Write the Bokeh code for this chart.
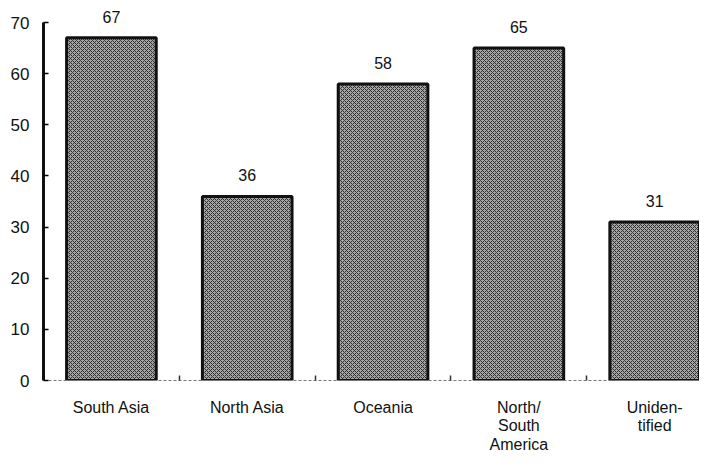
from bokeh.plotting import figure
from bokeh.models import Range1d, FixedTicker, ColumnDataSource
from bokeh.core.properties import value
from bokeh.embed import file_html
from bokeh.resources import INLINE
import numpy as np

categories = ["South Asia", "North Asia", "Oceania", "North/South America", "Unidentified"]
tick_labels = ["South Asia", "North Asia", "Oceania", "North/\nSouth\nAmerica", "Uniden-\ntified"]
values = [67, 36, 58, 65, 31]
y_ticks = [0, 10, 20, 30, 40, 50, 60, 70]

x = np.arange(len(categories)) + 0.5
src = ColumnDataSource(dict(x=x, v=values, lab=[str(v) for v in values], cat=categories))

p = figure(width=699, height=455, output_backend="svg", toolbar_location=None,
           x_range=Range1d(0, 4.83), y_range=Range1d(0, 72.35),
           min_border_left=43, min_border_right=0, min_border_top=10, min_border_bottom=75)
p.background_fill_color = "white"
p.border_fill_color = "white"
p.outline_line_color = None
p.grid.grid_line_color = None

p.vbar(x="x", top="v", width=0.66, bottom=0, source=src,
       fill_color="#a6a6a6", line_color="#111111", line_width=3,
       hatch_pattern="x", hatch_color="#2e2e2e", hatch_scale=4, hatch_weight=1)

p.text(x="x", y="v", text="lab", source=src, text_align="center", text_baseline="bottom",
       y_offset=-15, text_font=value("Liberation Sans"), text_font_size="16px", text_color="#111111")

# y axis
ya = p.yaxis[0]
ya.ticker = FixedTicker(ticks=y_ticks)
ya.bounds = (0, 70)
ya.axis_line_width = 3
ya.axis_line_color = "#111111"
ya.major_tick_in = 5
ya.major_tick_out = 0
ya.major_tick_line_width = 1.5
ya.minor_tick_line_color = None
ya.major_label_text_font = "Liberation Sans"
ya.major_label_text_font_size = "17px"
ya.major_label_text_color = "#111111"
ya.major_label_standoff = 14

# x axis
xa = p.xaxis[0]
xa.ticker = FixedTicker(ticks=list(x), minor_ticks=[1, 2, 3, 4])
xa.major_label_overrides = {float(xi): t for xi, t in zip(x, tick_labels)}
xa.axis_line_color = "#777777"
xa.axis_line_width = 1
xa.axis_line_dash = "3 2"
xa.major_tick_line_color = None
xa.minor_tick_in = 5
xa.minor_tick_out = 0
xa.minor_tick_line_color = "#333333"
xa.minor_tick_line_width = 1.5
xa.major_label_text_font = "Liberation Sans"
xa.major_label_text_font_size = "16px"
xa.major_label_text_line_height = 1.1
xa.major_label_text_color = "#111111"
xa.major_label_standoff = 12

open("out.html", "w").write(file_html(p, INLINE))
